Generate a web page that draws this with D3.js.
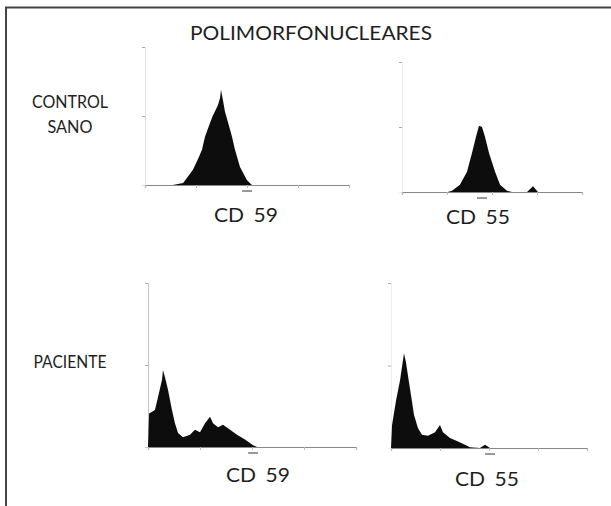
<!DOCTYPE html>
<html>
<head>
<meta charset="utf-8">
<script src="https://cdn.jsdelivr.net/npm/d3@7"></script>
<style>
  body { margin: 0; background: #fff; }
  text { font-family: Lato, "Open Sans", sans-serif; font-weight: 400; fill: #1e1e1e; }
</style>
</head>
<body>
<div id="chart"></div>
<script>
var width = 611,
    height = 506;

// histogram data: fluorescence intensity (log) vs cell count
var cd59ControlX = [3.5, 5.6, 8.7, 11.0, 13.1, 15.0, 18.8, 21.5, 24.0, 27.0, 29.6, 30.9, 33.8, 37.0, 42.4, 50.8, 58.2, 72.9, 100, 125];
var cd59ControlY = [0, 3, 22, 38, 51, 70, 90, 101, 108, 116, 126, 138, 123, 106, 91, 70, 51, 26, 7, 0];

var cd55ControlX = [10.5, 12.9, 19.4, 27.8, 35.9, 44.1, 51.4, 59.9, 69.9, 85.8, 117, 151, 215, 278, 599, 815, 1052];
var cd55ControlY = [0, 2, 11, 31, 60, 85, 102, 100, 85, 60, 31, 11, 2, 0, 0, 9, 0];

var cd59PacienteX = [1.0, 1.05, 1.36, 1.56, 1.86, 1.94, 2.12, 2.42, 2.89, 3.30, 3.78, 4.71, 6.42, 8.0, 10, 12.5, 15.6, 17.8, 22.2, 27.7, 37.8, 51.5, 73.3, 105, 125];
var cd59PacienteY = [0, 41, 45, 61, 82, 94, 85, 70, 45, 29, 17, 12, 15, 21, 18, 29, 37, 29, 24, 27, 21, 15, 9, 2, 0];

var cd55PacienteX = [1.0, 1.05, 1.27, 1.53, 1.76, 1.84, 2.02, 2.22, 2.56, 2.95, 3.56, 4.29, 5.69, 7.9, 10, 11.5, 16.0, 23.3, 32.4, 41, 65, 83, 105];
var cd55PacienteY = [0, 28, 58, 82, 107, 115, 104, 88, 64, 40, 24, 16, 15, 19, 28, 19, 12, 8, 4, 1, 0, 4, 0];

var decades = [1, 10, 100, 1000, 10000];
var countTicks = [100, 200];

var title = "POLIMORFONUCLEARES";
var rowLabels = [["CONTROL", "SANO"], ["PACIENTE"]];
var markerNames = ["CD 59", "CD 55", "CD 59", "CD 55"];
var cursorAt = [100, 60, 105, 105];

// panel frames (pixel boxes)
var panels = [
  { xs: cd59ControlX, ys: cd59ControlY, x0: 145, x1: 349, y0: 185, y1: 47, axis: "#e2e2e2" },
  { xs: cd55ControlX, ys: cd55ControlY, x0: 402, x1: 582, y0: 192, y1: 62, axis: "#ececec" },
  { xs: cd59PacienteX, ys: cd59PacienteY, x0: 148, x1: 356, y0: 447, y1: 283, axis: "#c4c4c4" },
  { xs: cd55PacienteX, ys: cd55PacienteY, x0: 391, x1: 587, y0: 448, y1: 283, axis: "#eeeeee" }
];
var labelPos = [[246, 222], [478, 224], [258, 482], [487, 486]];

var svg = d3.select("#chart").append("svg")
    .attr("width", width)
    .attr("height", height);

var defs = svg.append("defs");
defs.append("filter").attr("id", "scan")
    .append("feGaussianBlur").attr("stdDeviation", 0.6);

// frame
svg.append("path")
    .attr("d", "M6,506 V7.5 H611")
    .attr("fill", "none")
    .attr("stroke", "#444")
    .attr("stroke-width", 2);

svg.append("text")
    .attr("x", 311).attr("y", 40)
    .attr("text-anchor", "middle")
    .attr("font-size", 19)
    .attr("textLength", 242)
    .attr("lengthAdjust", "spacingAndGlyphs")
    .text(title);

var rowY = [[108, 133], [368]];
var rowW = [[76, 45], [73]];
rowLabels.forEach(function(lines, r) {
  lines.forEach(function(s, k) {
    svg.append("text")
      .attr("x", 70).attr("y", rowY[r][k])
      .attr("text-anchor", "middle")
      .attr("font-size", 18)
      .attr("textLength", rowW[r][k])
      .attr("lengthAdjust", "spacingAndGlyphs")
      .text(s);
  });
});

panels.forEach(function(p, i) {
  var x = d3.scaleLog().domain([1, 10000]).range([p.x0, p.x1]);
  var y = d3.scaleLinear().domain([0, 200]).range([p.y0, p.y1]);

  var g = svg.append("g").attr("filter", "url(#scan)");

  // faint y axis
  g.append("g")
    .attr("transform", "translate(" + p.x0 + ",0)")
    .call(d3.axisLeft(y).tickValues(countTicks).tickSize(3).tickFormat(""))
    .call(function(a) {
      a.select(".domain").attr("stroke", p.axis);
      a.selectAll(".tick line").attr("stroke", "#aaa");
    });

  // x axis with decade ticks
  g.append("g")
    .attr("transform", "translate(0," + p.y0 + ")")
    .call(d3.axisBottom(x).tickValues(decades).tickSize(3).tickFormat(""))
    .call(function(a) {
      a.select(".domain").attr("stroke", "#888").attr("stroke-width", 1.2);
      a.selectAll(".tick line").attr("stroke", "#bbb");
    });

  var data = p.xs.map(function(v, k) { return [v, p.ys[k]]; });
  var area = d3.area()
    .x(function(d) { return x(d[0]); })
    .y0(p.y0)
    .y1(function(d) { return y(d[1]); });

  g.append("path")
    .datum(data)
    .attr("d", area)
    .attr("fill", "#111");

  // cursor marker under the axis
  g.append("line")
    .attr("x1", x(cursorAt[i]) - 5).attr("x2", x(cursorAt[i]) + 5)
    .attr("y1", p.y0 + 6).attr("y2", p.y0 + 6)
    .attr("stroke", "#777").attr("stroke-width", 1.5);

  svg.append("text")
    .attr("x", labelPos[i][0]).attr("y", labelPos[i][1])
    .attr("text-anchor", "middle")
    .attr("font-size", 20)
    .attr("textLength", 64)
    .attr("lengthAdjust", "spacingAndGlyphs")
    .attr("word-spacing", 4)
    .text(markerNames[i]);
});
</script>
</body>
</html>
